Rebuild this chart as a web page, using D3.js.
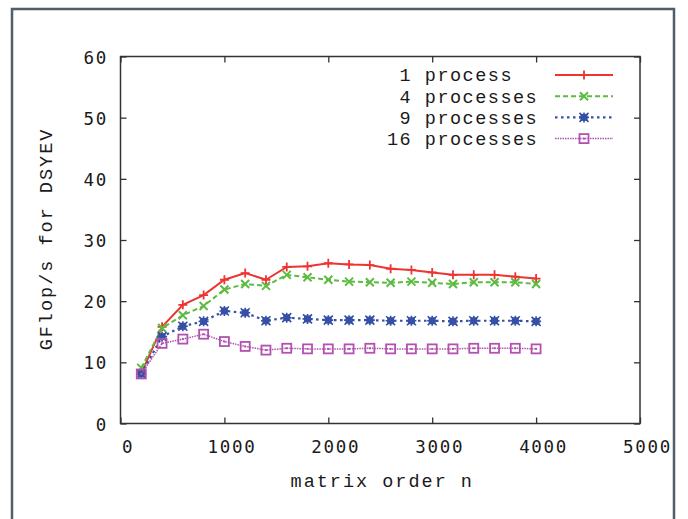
<!DOCTYPE html>
<html>
<head>
<meta charset="utf-8">
<script src="https://cdn.jsdelivr.net/npm/d3@7/dist/d3.min.js"></script>
<style>
  html, body { margin: 0; padding: 0; background: #fff; }
  svg { display: block; }
</style>
</head>
<body>
<script>
// ---- data ----
const matrixOrder = [200, 400, 600, 800, 1000, 1200, 1400, 1600, 1800, 2000,
                     2200, 2400, 2600, 2800, 3000, 3200, 3400, 3600, 3800, 4000];
const seriesNames = [" 1 process", " 4 processes", " 9 processes", "16 processes"];
const p1  = [8.2, 15.8, 19.4, 21.0, 23.5, 24.6, 23.5, 25.6, 25.7, 26.2,
             26.0, 25.9, 25.3, 25.1, 24.7, 24.3, 24.3, 24.3, 24.0, 23.7];
const p4  = [9.1, 15.6, 17.7, 19.2, 21.9, 22.8, 22.5, 24.3, 23.9, 23.5,
             23.2, 23.1, 23.0, 23.2, 23.0, 22.8, 23.1, 23.1, 23.1, 22.8];
const p9  = [8.1, 14.2, 15.9, 16.7, 18.4, 18.1, 16.8, 17.3, 17.1, 16.9,
             16.9, 16.9, 16.8, 16.8, 16.8, 16.7, 16.8, 16.8, 16.8, 16.7];
const p16 = [8.1, 13.1, 13.8, 14.6, 13.4, 12.6, 12.0, 12.3, 12.2, 12.2,
             12.2, 12.3, 12.2, 12.2, 12.2, 12.2, 12.3, 12.3, 12.3, 12.2];
const xTicks = [0, 1000, 2000, 3000, 4000, 5000];
const yTicks = [0, 10, 20, 30, 40, 50, 60];
const xLabel = "matrix order n";
const yLabel = "GFlop/s for DSYEV";

// ---- styles ----
const styles = [
  { color: "#ee3333", dash: null,  width: 2,   marker: "plus" },
  { color: "#5cbb40", dash: "5,3", width: 2,   marker: "cross" },
  { color: "#3550a6", dash: "2.5,3.5", width: 2.2, marker: "star" },
  { color: "#b152b0", dash: "1.5,1", width: 1.5, marker: "square" }
];
const allSeries = [p1, p4, p9, p16];

const W = 688, H = 519;
const svg = d3.select("body").append("svg").attr("width", W).attr("height", H);
svg.append("rect").attr("width", W).attr("height", H).attr("fill", "#fff");

// outer frame
svg.append("rect").attr("x", 12).attr("y", 9).attr("width", 662).attr("height", 530)
  .attr("fill", "none").attr("stroke", "#4f5e69").attr("stroke-width", 2.5);

const pL = 120.5, pR = 640, pT = 56.5, pB = 423.5;
const x = d3.scaleLinear().domain([0, 5000]).range([pL, pR]);
const y = d3.scaleLinear().domain([0, 60]).range([pB, pT]);

const tickFont = "'DejaVu Sans Mono', monospace";
const labelFont = "'Liberation Mono', 'Courier New', monospace";

function styleAxis(g) {
  g.select(".domain").remove();
  g.selectAll("line").attr("stroke", "#333").attr("stroke-width", 1.3);
  g.selectAll("text").attr("fill", "#1a1a1a").attr("font-family", tickFont)
    .attr("font-size", 17.5).attr("letter-spacing", 1.7);
}

// axes with inward ticks, mirrored
svg.append("g").attr("transform", `translate(0,${pB})`)
  .call(d3.axisBottom(x).tickValues(xTicks).tickSize(-6).tickPadding(17).tickFormat(d3.format("d")))
  .call(styleAxis)
  .call(g => g.selectAll("text").attr("dx", 7));
svg.append("g").attr("transform", `translate(0,${pT})`)
  .call(d3.axisTop(x).tickValues(xTicks).tickSize(-6).tickFormat(""))
  .call(styleAxis);
svg.append("g").attr("transform", `translate(${pL},0)`)
  .call(d3.axisLeft(y).tickValues(yTicks).tickSize(-6).tickPadding(12.5).tickFormat(d3.format("d")))
  .call(styleAxis)
  .call(g => g.selectAll("text").attr("dy", "0.38em"));
svg.append("g").attr("transform", `translate(${pR},0)`)
  .call(d3.axisRight(y).tickValues(yTicks).tickSize(-6).tickFormat(""))
  .call(styleAxis);

// plot border
svg.append("rect").attr("x", pL).attr("y", pT)
  .attr("width", pR - pL).attr("height", pB - pT)
  .attr("fill", "none").attr("stroke", "#333").attr("stroke-width", 1.5);

// axis labels
svg.append("text").attr("x", (pL + pR) / 2 + 2).attr("y", 487)
  .attr("text-anchor", "middle").attr("font-family", labelFont)
  .attr("font-size", 18.5).attr("letter-spacing", 2).attr("fill", "#1a1a1a")
  .text(xLabel);
svg.append("text")
  .attr("transform", `translate(52,${(pT + pB) / 2 - 1}) rotate(-90)`)
  .attr("text-anchor", "middle").attr("font-family", labelFont)
  .attr("font-size", 18.5).attr("letter-spacing", 2).attr("fill", "#1a1a1a")
  .text(yLabel);

// markers
function drawMarker(g, type, cx, cy, color) {
  if (type === "plus") {
    g.append("path").attr("d", `M${cx - 4.5},${cy}H${cx + 4.5}M${cx},${cy - 4.5}V${cy + 4.5}`)
      .attr("stroke", color).attr("stroke-width", 1.8).attr("fill", "none");
  } else if (type === "cross") {
    g.append("path").attr("d", `M${cx - 4},${cy - 4}L${cx + 4},${cy + 4}M${cx - 4},${cy + 4}L${cx + 4},${cy - 4}`)
      .attr("stroke", color).attr("stroke-width", 2).attr("fill", "none");
  } else if (type === "star") {
    g.append("rect").attr("x", cx - 3.5).attr("y", cy - 3.5).attr("width", 7).attr("height", 7)
      .attr("fill", color);
    g.append("path").attr("d", `M${cx - 4.5},${cy - 4.5}L${cx + 4.5},${cy + 4.5}M${cx - 4.5},${cy + 4.5}L${cx + 4.5},${cy - 4.5}M${cx - 5},${cy}H${cx + 5}M${cx},${cy - 5}V${cy + 5}`)
      .attr("stroke", color).attr("stroke-width", 1.6).attr("fill", "none");
  } else if (type === "square") {
    g.append("rect").attr("x", cx - 4.5).attr("y", cy - 4.5).attr("width", 9).attr("height", 9)
      .attr("fill", "none").attr("stroke", color).attr("stroke-width", 1.8);
    g.append("rect").attr("x", cx - 1).attr("y", cy - 1).attr("width", 2).attr("height", 2)
      .attr("fill", color);
  }
}

const line = d3.line().x(d => x(d[0])).y(d => y(d[1]));
allSeries.forEach((vals, i) => {
  const st = styles[i];
  const pts = matrixOrder.map((n, j) => [n, vals[j]]);
  const g = svg.append("g");
  g.append("path").datum(pts).attr("d", line)
    .attr("fill", "none").attr("stroke", st.color).attr("stroke-width", st.width)
    .attr("stroke-dasharray", st.dash);
  pts.forEach(p => drawMarker(g, st.marker, x(p[0]), y(p[1]), st.color));
});

// legend
const legX = 387, legY0 = 75, legDy = 21.2;
seriesNames.forEach((name, i) => {
  const st = styles[i];
  const yy = legY0 + i * legDy;
  svg.append("text").attr("x", legX).attr("y", yy).attr("dy", "0.35em")
    .attr("font-family", labelFont).attr("font-size", 18.5).attr("letter-spacing", 1.5)
    .attr("fill", "#1a1a1a").style("white-space", "pre").text(name);
  const g = svg.append("g");
  g.append("line").attr("x1", 555).attr("x2", 613).attr("y1", yy).attr("y2", yy)
    .attr("stroke", st.color).attr("stroke-width", st.width).attr("stroke-dasharray", st.dash);
  drawMarker(g, st.marker, 584, yy, st.color);
});
</script>
</body>
</html>
